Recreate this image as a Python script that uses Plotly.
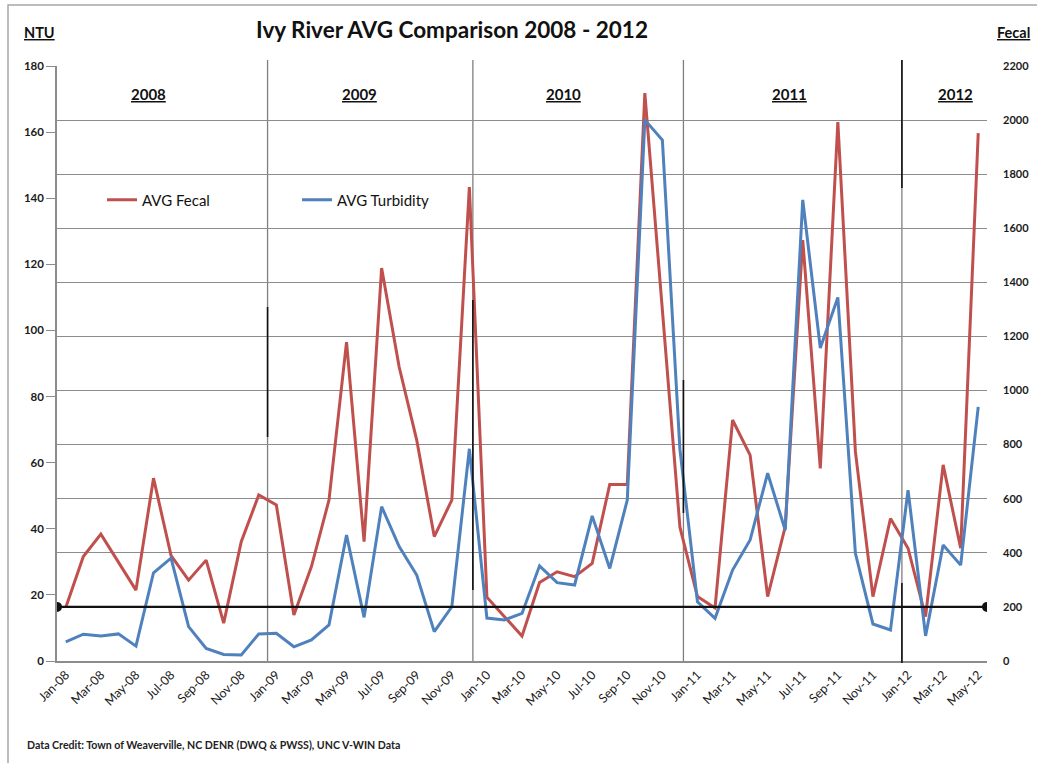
import pandas as pd
import plotly.graph_objects as go

# Monthly averages, Jan 2008 - May 2012
months = list(pd.date_range("2008-01-01", periods=53, freq="MS").strftime("%b-%y"))

avg_fecal = [
    198, 386, 469, 365, 262, 676, 390, 299, 373, 140, 441, 614,   # 2008
    577, 170, 349, 595, 1179, 441, 1453, 1087, 817, 460, 595, 1752,  # 2009
    236, 164, 92, 290, 330, 312, 361, 653, 653, 2100, 1280, 495,  # 2010
    238, 196, 891, 761, 238, 496, 1556, 712, 1993, 774, 238, 527,  # 2011
    417, 164, 725, 417, 1952,                                       # 2012
]

avg_turbidity = [
    5.8, 8.1, 7.6, 8.2, 4.5, 26.7, 31.1, 10.4, 3.8, 2.0, 1.8, 8.2,   # 2008
    8.4, 4.3, 6.4, 10.9, 38.1, 13.2, 46.7, 34.6, 26.0, 8.9, 16.4, 64.2,  # 2009
    13.0, 12.4, 14.4, 28.8, 23.7, 23.0, 43.9, 28.0, 48.7, 163.7, 157.6, 64.0,  # 2010
    17.9, 12.9, 27.5, 36.6, 56.8, 39.6, 139.5, 94.7, 110.0, 32.6, 11.2, 9.4,  # 2011
    51.7, 7.6, 35.1, 29.0, 76.9,                                    # 2012
]

fecal_standard = 200
years = ["2008", "2009", "2010", "2011", "2012"]

# ---- page geometry (pixels) ----
W, H = 1037, 763
L, R, T, B = 57, 987, 66, 661


def px(x):
    return (x - L) / (R - L)


def py(y):
    return (B - y) / (B - T)


RED = "#C0504D"
BLUE = "#4F81BD"
GRID = "#8C8C8C"
FONT = "Lato"

idx = list(range(len(months)))

fig = go.Figure()
fig.add_trace(go.Scatter(
    x=idx, y=avg_fecal, name="AVG Fecal", mode="lines",
    line=dict(color=RED, width=3), yaxis="y",
))
fig.add_trace(go.Scatter(
    x=idx, y=avg_turbidity, name="AVG Turbidity", mode="lines",
    line=dict(color=BLUE, width=3), yaxis="y2",
))

shapes = []
# outer chart frame
shapes.append(dict(type="rect", xref="paper", yref="paper",
                   x0=px(8), x1=px(1040), y0=py(775), y1=py(5),
                   line=dict(color="#A6A6A6", width=1.5), layer="below"))

# year dividers: thin grey full height, darker segments on top
divider_x = [11.5, 23.2, 35.2, 47.65]
for dx in divider_x:
    shapes.append(dict(type="line", xref="x", yref="paper", x0=dx, x1=dx,
                       y0=py(663), y1=py(60), line=dict(color="#7F7F7F", width=1.3),
                       layer="below"))
dark_segments = [
    (11.5, 307, 437),
    (23.2, 300, 590),
    (35.2, 380, 513),
    (47.65, 60, 188),
    (47.65, 583, 663),
]
for dx, ya, yb in dark_segments:
    shapes.append(dict(type="line", xref="x", yref="paper", x0=dx, x1=dx,
                       y0=py(yb), y1=py(ya), line=dict(color="#111111", width=1.6),
                       layer="above"))

# fecal standard line with end dots
shapes.append(dict(type="line", xref="x", yref="y", x0=-0.5, x1=52.5,
                   y0=fecal_standard, y1=fecal_standard,
                   line=dict(color="#111111", width=2.2), layer="above"))
for ex in (-0.5, 52.5):
    shapes.append(dict(type="circle", xref="x", yref="y", xsizemode="pixel",
                       ysizemode="pixel", xanchor=ex, yanchor=fecal_standard,
                       x0=-5, x1=5, y0=-5, y1=5,
                       fillcolor="#111111", line=dict(color="#111111", width=0),
                       layer="above"))

annotations = []
annotations.append(dict(text="Ivy River AVG Comparison 2008 - 2012", x=px(452), y=py(29),
                        xref="paper", yref="paper", showarrow=False,
                        xanchor="center", yanchor="middle",
                        font=dict(family=FONT, size=22.5, color="#111111", weight="bold")))
annotations.append(dict(text="NTU", x=px(22), y=py(33), xref="paper", yref="paper",
                        showarrow=False, xanchor="left", yanchor="middle",
                        font=dict(family=FONT, size=14.5, color="#111111", weight="bold",
                                  lineposition="under")))
annotations.append(dict(text="Fecal", x=px(1032), y=py(33), xref="paper", yref="paper",
                        showarrow=False, xanchor="right", yanchor="middle",
                        font=dict(family=FONT, size=14.5, color="#111111", weight="bold",
                                  lineposition="under")))
year_x = [148, 359, 563, 789, 955]
for yr, cx in zip(years, year_x):
    annotations.append(dict(text=yr, x=px(cx), y=py(94), xref="paper", yref="paper",
                            showarrow=False, xanchor="center", yanchor="middle",
                            font=dict(family=FONT, size=15, color="#111111", weight="bold",
                                      lineposition="under")))
annotations.append(dict(text="Data Credit: Town of Weaverville, NC DENR (DWQ &amp; PWSS), UNC V-WIN Data",
                        x=px(25), y=py(745), xref="paper", yref="paper",
                        showarrow=False, xanchor="left", yanchor="middle",
                        font=dict(family=FONT, size=10.6, color="#222222", weight="bold")))

fig.update_layout(
    width=W, height=H,
    margin=dict(l=L, r=W - R, t=T, b=H - B, pad=0, autoexpand=False),
    paper_bgcolor="white", plot_bgcolor="white",
    font=dict(family=FONT, color="#222222"),
    showlegend=True,
    legend=dict(orientation="h", x=px(102), y=py(200), xanchor="left", yanchor="middle",
                bgcolor="rgba(0,0,0,0)", borderwidth=0,
                entrywidth=150, entrywidthmode="pixels",
                font=dict(family=FONT, size=15, color="#111111")),
    xaxis=dict(
        range=[-0.5, 52.5], tickmode="array", tickvals=idx[::2], ticktext=months[::2],
        tickangle=-45, showgrid=False, zeroline=False, automargin=False,
        showline=True, linecolor=GRID, linewidth=1.5, ticks="",
        tickfont=dict(family=FONT, size=12.5, color="#1A1A1A"),
    ),
    # fecal axis (right) carries the gridlines
    yaxis=dict(
        side="right", range=[0, 2200], dtick=200, tick0=0, automargin=False,
        showgrid=True, gridcolor=GRID, gridwidth=1.4, zeroline=False,
        showline=False, ticks="", ticklabelstandoff=15,
        tickfont=dict(family=FONT, size=11, color="#1A1A1A", weight="bold"),
    ),
    # turbidity axis (left)
    yaxis2=dict(
        side="left", overlaying="y", range=[0, 180], dtick=20, tick0=0, automargin=False,
        showgrid=False, zeroline=False,
        showline=True, linecolor=GRID, linewidth=1.5,
        ticks="outside", ticklen=9, tickcolor=GRID, tickwidth=1.3,
        tickfont=dict(family=FONT, size=11.5, color="#1A1A1A", weight="bold"),
    ),
    shapes=shapes,
    annotations=annotations,
)

fig.write_html("out.html")
